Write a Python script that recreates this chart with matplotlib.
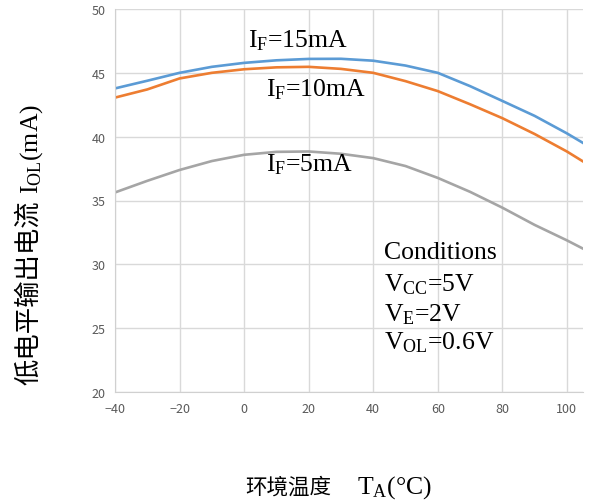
import numpy as np
import matplotlib.pyplot as plt

plt.rcParams['mathtext.fontset'] = 'custom'
plt.rcParams['mathtext.rm'] = 'Liberation Serif'
plt.rcParams['mathtext.it'] = 'Liberation Serif'

# temperature points (degC)
temps = [-40, -30, -20, -10, 0, 10, 20, 30, 40, 50, 60, 70, 80, 90, 100, 105]

# low level output current IOL (mA)
iol_15ma = [43.78, 44.38, 45.0, 45.47, 45.78, 45.98, 46.09, 46.1, 45.95, 45.57,
            45.0, 43.96, 42.8, 41.63, 40.26, 39.51]
iol_10ma = [43.06, 43.7, 44.56, 45.0, 45.28, 45.43, 45.47, 45.31, 45.0, 44.35,
            43.57, 42.54, 41.45, 40.21, 38.84, 38.06]
iol_5ma = [35.63, 36.54, 37.39, 38.09, 38.58, 38.81, 38.84, 38.66, 38.32, 37.7,
           36.77, 35.68, 34.44, 33.09, 31.88, 31.23]

xticks = [-40, -20, 0, 20, 40, 60, 80, 100]
yticks = [20, 25, 30, 35, 40, 45, 50]

serif = 'Liberation Serif'
cjk = 'Noto Sans CJK SC'


def main():
    W, H = 590, 502
    fig = plt.figure(figsize=(5.9, 5.02), dpi=100)
    ax = fig.add_axes([115 / W, 1 - 393 / H, (583 - 115) / W, (393 - 10) / H])

    ax.plot(temps, iol_15ma, color='#5B9BD5', linewidth=1.9)
    ax.plot(temps, iol_10ma, color='#ED7D31', linewidth=1.9)
    ax.plot(temps, iol_5ma, color='#A5A5A5', linewidth=1.9)

    ax.set_xlim(-40, 105)
    ax.set_ylim(20, 50)
    ax.set_xticks(xticks)
    ax.set_yticks(yticks)
    ax.grid(True, color='#d9d9d9', linewidth=1.0)
    ax.set_axisbelow(True)
    for side in ['top', 'right']:
        ax.spines[side].set_visible(False)
    for side in ['left', 'bottom']:
        ax.spines[side].set_color('#d0d0d0')
    ax.tick_params(length=0, labelsize=9, labelcolor='#595959', pad=7)
    for lab in ax.get_xticklabels() + ax.get_yticklabels():
        lab.set_family(cjk)

    fs = 18.5
    ax.text(1.3, 47.07, r'I$_\mathregular{F}$=15mA', family=serif, fontsize=fs, va='baseline')
    ax.text(6.8, 43.24, r'I$_\mathregular{F}$=10mA', family=serif, fontsize=fs, va='baseline')
    ax.text(6.8, 37.36, r'I$_\mathregular{F}$=5mA', family=serif, fontsize=fs, va='baseline')

    ax.text(43.2, 30.5, 'Conditions', family=serif, fontsize=fs, va='baseline')
    ax.text(43.2, 27.92, r'V$_\mathregular{CC}$=5V', family=serif, fontsize=fs, va='baseline')
    ax.text(43.2, 25.59, r'V$_\mathregular{E}$=2V', family=serif, fontsize=fs, va='baseline')
    ax.text(43.2, 23.38, r'V$_\mathregular{OL}$=0.6V', family=serif, fontsize=fs, va='baseline')

    # y label: Chinese part and the symbol part drawn separately
    fig.text(29 / W, 1 - 292.5 / H, '低电平输出电流', family=cjk, fontsize=19,
             rotation=90, ha='center', va='center')
    fig.text(32 / W, 1 - 149 / H, r'I$_\mathregular{OL}$(mA)', family=serif, fontsize=fs,
             rotation=90, ha='center', va='center')

    # x label
    fig.text(288 / W, 1 - 494 / H, '环境温度', family=cjk, fontsize=15.5,
             ha='center', va='baseline')
    fig.text(357 / W, 1 - 494 / H, r'T$_\mathregular{A}$(°C)', family=serif, fontsize=fs,
             ha='left', va='baseline')

    fig.savefig('out.png', dpi=100)


if __name__ == '__main__':
    main()
